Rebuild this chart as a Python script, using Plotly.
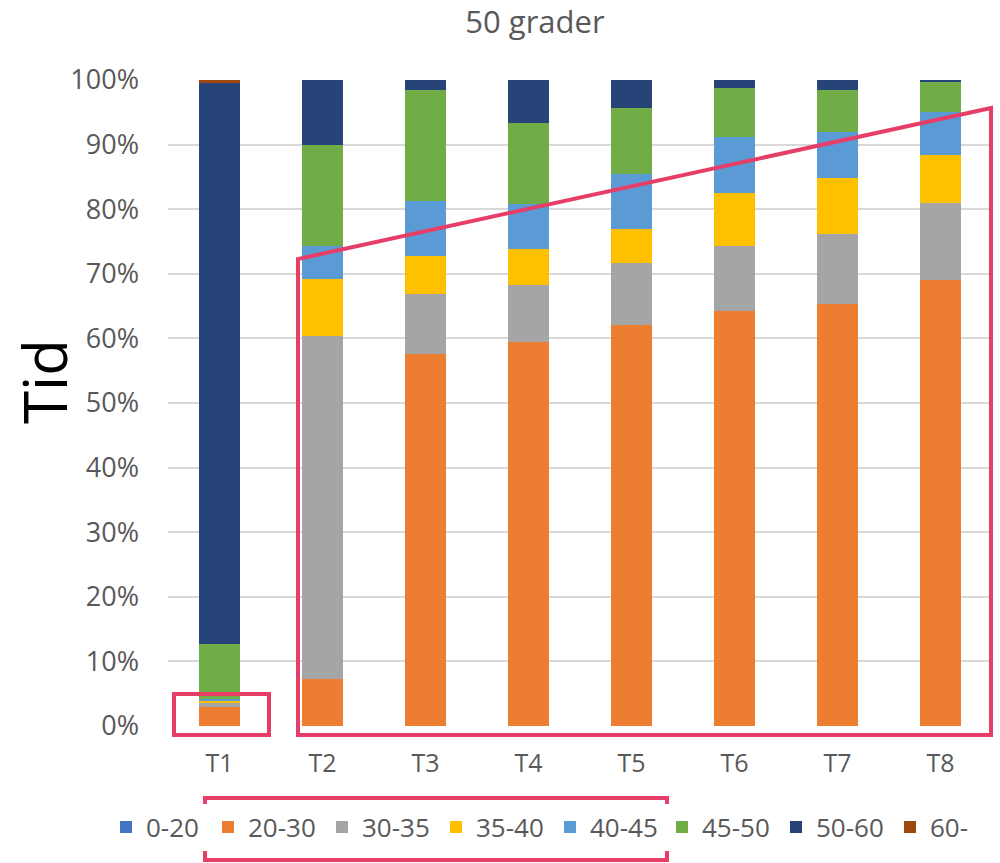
import plotly.graph_objects as go

# Share of riders per time bracket, for each test round (percent)
rounds = ["T1", "T2", "T3", "T4", "T5", "T6", "T7", "T8"]
brackets = ["0-20", "20-30", "30-35", "35-40", "40-45", "45-50", "50-60", "60-"]
colors = ["#4472C4", "#ED7D31", "#A5A5A5", "#FFC000", "#5B9BD5", "#70AD47", "#264478", "#9E480E"]

share_0_20 = [0.0, 0.0, 0.0, 0.0, 0.0, 0.0, 0.0, 0.0]
share_20_30 = [2.9, 7.3, 57.6, 59.4, 62.1, 64.3, 65.3, 69.0]
share_30_35 = [0.6, 53.1, 9.2, 8.9, 9.5, 10.0, 10.8, 12.0]
share_35_40 = [0.5, 8.8, 6.0, 5.5, 5.3, 8.2, 8.8, 7.4]
share_40_45 = [0.2, 5.1, 8.5, 7.0, 8.6, 8.7, 7.0, 6.7]
share_45_50 = [8.5, 15.6, 17.2, 12.5, 10.1, 7.6, 6.6, 4.6]
share_50_60 = [86.8, 10.1, 1.5, 6.7, 4.4, 1.2, 1.5, 0.3]
share_60_up = [0.5, 0.0, 0.0, 0.0, 0.0, 0.0, 0.0, 0.0]

series = [share_0_20, share_20_30, share_30_35, share_35_40,
          share_40_45, share_45_50, share_50_60, share_60_up]

# legend row is split in two groups so it stays on one line
legend_group = ["legend"] * 5 + ["legend2"] * 3
entry_width = [57, 69, 69, 69, 69, 69, 69, 69]

fig = go.Figure()
for name, col, vals, lg, ew in zip(brackets, colors, series, legend_group, entry_width):
    fig.add_trace(go.Bar(
        x=rounds, y=[v / 100 for v in vals], name=name,
        marker=dict(color=col, line=dict(width=0)),
        legend=lg, legendwidth=ew,
        hovertemplate="%{x}: %{y:.1%}<extra>" + name + "</extra>",
    ))

# Plot area in pixels: x 168..992, y 80..726
L, R, T, B = 168, 992, 80, 726
W, H = R - L, B - T


def dx(px):
    return (px - L) / W


def dy(py):
    return (B - py) / H


hl = "#E63E67"
shapes = [
    # box around the T1 low brackets
    dict(type="rect", xref="x domain", yref="y domain",
         x0=dx(174), x1=dx(269), y0=dy(735), y1=dy(694),
         line=dict(color=hl, width=4)),
    # trapezoid around the T2..T8 fast brackets
    dict(type="path", xref="x domain", yref="y domain",
         path="M {a},{b} L {a},{c} L {d},{e} L {d},{b} Z".format(
             a=dx(298), b=dy(735), c=dy(259), d=dx(991), e=dy(108)),
         line=dict(color=hl, width=4)),
    # box around the legend entries 20-30 .. 40-45
    dict(type="rect", xref="x domain", yref="y domain",
         x0=dx(205), x1=dx(667), y0=dy(860), y1=dy(798),
         line=dict(color=hl, width=4)),
]

legend_style = dict(orientation="h", xref="container", xanchor="left",
                    yref="container", y=1 - 827 / 863, yanchor="middle",
                    font=dict(size=26, color="#595959"), traceorder="normal",
                    itemclick=False, itemwidth=30)

fig.update_layout(
    barmode="stack",
    bargap=0.6,
    width=1000, height=863,
    margin=dict(l=L, r=1000 - R, t=T, b=863 - B, autoexpand=False),
    paper_bgcolor="white", plot_bgcolor="white",
    font=dict(family="Open Sans", color="#595959"),
    title=dict(text="50 grader", x=0.535, xref="container", xanchor="center",
               y=1 - 22 / 863, yref="container", yanchor="middle",
               font=dict(size=31, color="#595959")),
    xaxis=dict(showgrid=False, showline=False, ticks="",
               tickfont=dict(size=25, color="#595959"), ticklabelstandoff=20),
    yaxis=dict(range=[0, 1], tickvals=[i / 10 for i in range(11)], tickformat=".0%",
               showgrid=True, gridcolor="#D9D9D9", gridwidth=2,
               zeroline=False, showline=False, ticks="",
               tickfont=dict(size=27, color="#595959"), ticklabelstandoff=28),
    legend=dict(x=0.106, **legend_style),
    legend2=dict(x=0.662, **legend_style),
    showlegend=True,
    shapes=shapes,
    annotations=[dict(text="Tid", xref="paper", yref="paper", x=dx(44), y=dy(382),
                      xanchor="center", yanchor="middle",
                      showarrow=False, textangle=-90,
                      font=dict(size=60, color="black"))],
)

fig.write_html("out.html")
